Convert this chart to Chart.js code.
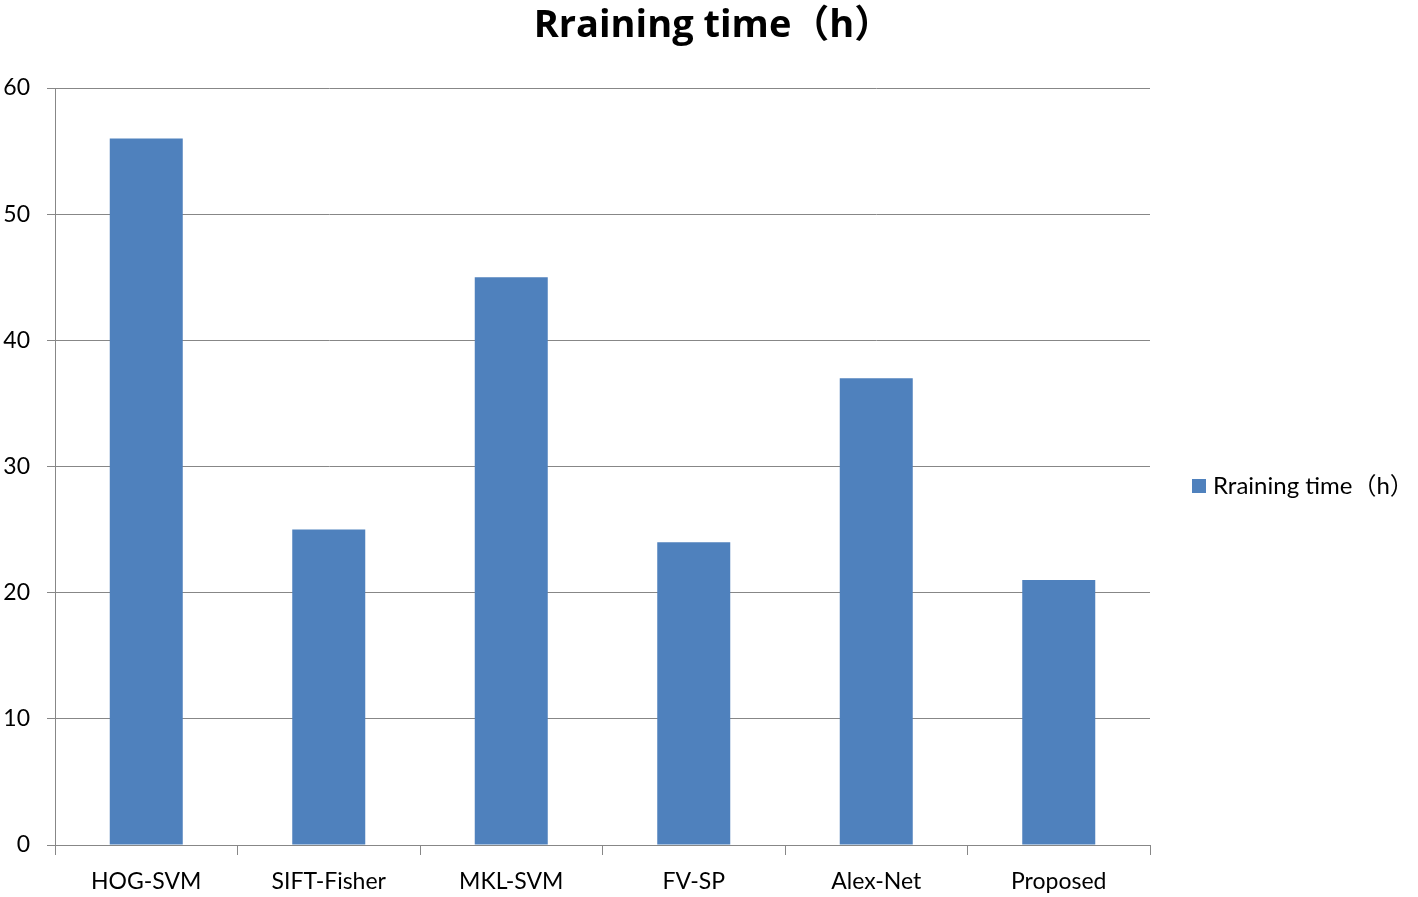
<!DOCTYPE html>
<html>
<head>
<meta charset="utf-8">
<script src="https://cdn.jsdelivr.net/npm/chart.js@4"></script>
<style>
  html, body { margin: 0; padding: 0; background: #fff; }
  #wrap { width: 1418px; height: 897px; }
</style>
</head>
<body>
<div id="wrap"><canvas id="chart"></canvas></div>
<script>
// data
const categories = ['HOG-SVM', 'SIFT-Fisher', 'MKL-SVM', 'FV-SP', 'Alex-Net', 'Proposed'];
const trainingHours = [56, 25, 45, 24, 37, 21];
const seriesLabel = 'Rraining time\uFF08h\uFF09';
const yTicks = [0, 10, 20, 30, 40, 50, 60];

const FONT = 'Lato, "Noto Sans CJK SC", "DejaVu Sans", sans-serif';
const TITLE_FONT = '"Open Sans", "Noto Sans CJK SC", "DejaVu Sans", sans-serif';
const GRID = '#878787';

// title centred on the whole figure + legend beside the plot, like the office chart
const figureText = {
  id: 'figureText',
  afterDraw(chart) {
    const { ctx, chartArea, width } = chart;
    const ds = chart.data.datasets[0];
    ctx.save();
    ctx.fillStyle = '#000';
    ctx.font = 'bold 38px ' + TITLE_FONT;
    ctx.textAlign = 'center';
    ctx.textBaseline = 'middle';
    ctx.fillText(ds.label, width / 2 + 4, 26);

    const x = chartArea.right + 42;
    const y = 486;
    ctx.fillStyle = ds.backgroundColor;
    ctx.fillRect(x, y - 7, 14, 14);
    ctx.fillStyle = '#000';
    ctx.font = '24px ' + FONT;
    ctx.textAlign = 'left';
    ctx.fillText(ds.label, x + 21, y);
    ctx.restore();
  }
};

new Chart(document.getElementById('chart'), {
  type: 'bar',
  data: {
    labels: categories,
    datasets: [{
      label: seriesLabel,
      data: trainingHours,
      backgroundColor: '#4F81BD',
      borderWidth: 0,
      categoryPercentage: 0.4,
      barPercentage: 1.0
    }]
  },
  options: {
    responsive: true,
    maintainAspectRatio: false,
    animation: false,
    layout: { padding: { top: 88, right: 268, left: 0, bottom: 0 } },
    plugins: {
      legend: { display: false },
      tooltip: { enabled: false },
      title: { display: false }
    },
    scales: {
      x: {
        grid: {
          offset: true,
          drawOnChartArea: false,
          tickLength: 10,
          color: GRID,
          lineWidth: 1
        },
        border: { color: GRID, width: 1 },
        ticks: {
          color: '#000',
          font: { family: FONT, size: 23 },
          padding: 13
        },
        afterFit(scale) { scale.height = 52; }
      },
      y: {
        min: 0,
        max: 60,
        afterBuildTicks(scale) { scale.ticks = yTicks.map(v => ({ value: v })); },
        grid: { color: GRID, lineWidth: 1, tickLength: 8 },
        border: { color: GRID, width: 1 },
        ticks: {
          color: '#000',
          font: { family: FONT, size: 23 },
          padding: 17
        },
        afterFit(scale) { scale.width = 55; }
      }
    }
  },
  plugins: [figureText]
});
</script>
</body>
</html>
